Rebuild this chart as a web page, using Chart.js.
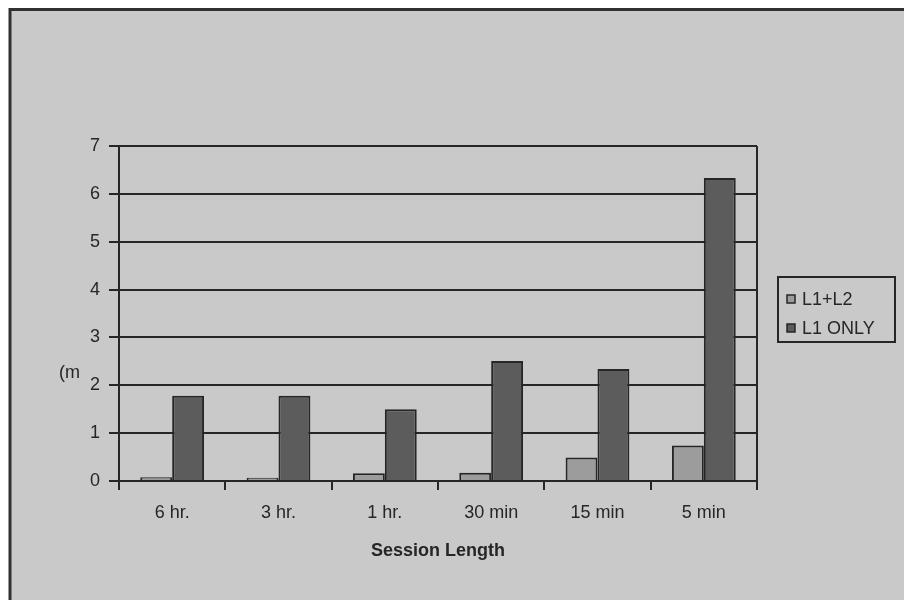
<!DOCTYPE html>
<html>
<head>
<meta charset="utf-8">
<script src="https://cdn.jsdelivr.net/npm/chart.js@4"></script>
<style>
html,body{margin:0;padding:0;background:#fff;}
#wrap{width:904px;height:600px;position:relative;}
</style>
</head>
<body>
<div id="wrap"><canvas id="c" width="904" height="600"></canvas></div>
<script>
const categories = ["6 hr.", "3 hr.", "1 hr.", "30 min", "15 min", "5 min"];
const seriesL1L2 = [0.08, 0.07, 0.16, 0.17, 0.49, 0.74];
const seriesL1Only = [1.78, 1.78, 1.50, 2.51, 2.34, 6.33];
const seriesNames = ["L1+L2", "L1 ONLY"];
const yTicks = [0, 1, 2, 3, 4, 5, 6, 7];
const xTitle = "Session Length";
const yTitle = "(m";

const FONT = "'Liberation Sans', Arial, sans-serif";
const BG = "#c9c9c9";
const INK = "#262626";

const framePlugin = {
  id: 'frame',
  beforeDraw(chart) {
    const ctx = chart.ctx;
    ctx.save();
    ctx.fillStyle = '#ffffff';
    ctx.fillRect(0, 0, chart.width, chart.height);
    ctx.fillStyle = BG;
    ctx.fillRect(10, 9, chart.width - 10, chart.height - 9);
    ctx.strokeStyle = '#303030';
    ctx.lineWidth = 3;
    ctx.beginPath();
    ctx.moveTo(10, chart.height);
    ctx.lineTo(10, 9.5);
    ctx.lineTo(chart.width, 9.5);
    ctx.stroke();
    ctx.restore();
  },
  afterDraw(chart) {
    const ctx = chart.ctx;
    const a = chart.chartArea;
    ctx.save();
    ctx.strokeStyle = INK;
    ctx.lineWidth = 2;
    ctx.beginPath();
    ctx.moveTo(a.right, a.top);
    ctx.lineTo(a.right, a.bottom);
    ctx.stroke();
    ctx.fillStyle = INK;
    ctx.font = "18px " + FONT;
    ctx.textAlign = 'left';
    ctx.textBaseline = 'middle';
    ctx.fillText(yTitle, 59, chart.scales.y.getPixelForValue(2.25));
    const lx = a.right + 21, ly = a.top + 131, lw = 117, lh = 65;
    ctx.strokeStyle = INK;
    ctx.lineWidth = 2;
    ctx.strokeRect(lx, ly, lw, lh);
    chart.data.datasets.forEach((ds, i) => {
      const cy = ly + 22 + i * 29;
      ctx.fillStyle = ds.backgroundColor;
      ctx.fillRect(lx + 9, cy - 4, 8, 8);
      ctx.strokeStyle = INK;
      ctx.lineWidth = 1.5;
      ctx.strokeRect(lx + 9, cy - 4, 8, 8);
      ctx.fillStyle = INK;
      ctx.font = "18px " + FONT;
      ctx.fillText(ds.label, lx + 24, cy + 1);
    });
    ctx.restore();
  }
};

new Chart(document.getElementById('c'), {
  type: 'bar',
  data: {
    labels: categories,
    datasets: [
      { label: seriesNames[0], data: seriesL1L2, backgroundColor: '#9c9c9c', borderColor: INK, borderWidth: 2, borderSkipped: 'bottom' },
      { label: seriesNames[1], data: seriesL1Only, backgroundColor: '#5c5c5c', borderColor: INK, borderWidth: 2, borderSkipped: 'bottom' }
    ]
  },
  options: {
    responsive: false,
    animation: false,
    devicePixelRatio: 1,
    layout: { padding: { left: 10, top: 146, right: 147, bottom: 34 } },
    plugins: { legend: { display: false }, tooltip: { enabled: false } },
    datasets: { bar: { barPercentage: 1.0, categoryPercentage: 0.6 } },
    scales: {
      x: {
        grid: { offset: true, drawOnChartArea: false, drawTicks: true, tickLength: 9, color: INK, lineWidth: 2 },
        border: { display: true, color: INK, width: 2 },
        ticks: { color: INK, font: { family: FONT, size: 18 }, padding: 12 },
        title: { display: true, text: xTitle, color: INK, font: { family: FONT, size: 18, weight: 'bold' }, padding: { top: 4, bottom: 4 } },
        afterFit(scale) { scale.height = 600 - 481 - 34; }
      },
      y: {
        min: 0, max: 7,
        afterBuildTicks(scale) { scale.ticks = yTicks.map(v => ({ value: v })); },
        grid: { color: INK, lineWidth: 2, drawTicks: true, tickLength: 10 },
        border: { display: true, color: INK, width: 2 },
        ticks: { color: INK, font: { family: FONT, size: 18 }, padding: 9 },
        afterFit(scale) { scale.width = 119 - 10; }
      }
    }
  },
  plugins: [framePlugin]
});
</script>
</body>
</html>
